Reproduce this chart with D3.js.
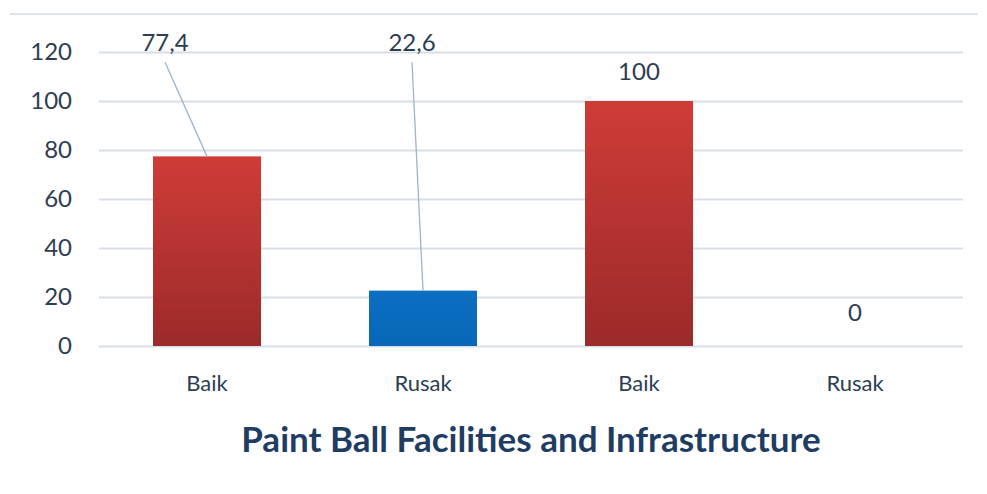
<!DOCTYPE html>
<html><head><meta charset="utf-8">
<script src="https://cdn.jsdelivr.net/npm/d3@7"></script>
<style>body{margin:0;background:#fff}svg{display:block}</style>
</head><body>
<script>
const categories = ["Baik", "Rusak", "Baik", "Rusak"];
const values = [77.4, 22.6, 100, 0];
const valueLabels = ["77,4", "22,6", "100", "0"];
const barColors = ["red", "blue", "red", "blue"];
const yTicks = [0, 20, 40, 60, 80, 100, 120];
const title = "Paint Ball Facilities and Infrastructure";
// label positions (data units) for labels lifted with leader lines
const labelOffsets = [{dx: -42, y: 124}, {dx: -11, y: 124}, {dx: 0, y: 112}, {dx: 0, y: 13.5}];

const W = 987, H = 494;
const margin = {left: 99, right: 24, top: 52, bottom: 148};
const svg = d3.select("body").append("svg").attr("width", W).attr("height", H);
const font = "Lato, 'Open Sans', sans-serif";
const textCol = "#2e3d50";

const defs = svg.append("defs");
const gr = defs.append("linearGradient").attr("id", "gRed").attr("x1", 0).attr("x2", 0).attr("y1", 0).attr("y2", 1);
gr.append("stop").attr("offset", "0%").attr("stop-color", "#cf3c37");
gr.append("stop").attr("offset", "100%").attr("stop-color", "#9b2a2a");
const gb = defs.append("linearGradient").attr("id", "gBlue").attr("x1", 0).attr("x2", 0).attr("y1", 0).attr("y2", 1);
gb.append("stop").attr("offset", "0%").attr("stop-color", "#0b6fc2");
gb.append("stop").attr("offset", "100%").attr("stop-color", "#0867b8");

const x = d3.scaleBand().domain(d3.range(categories.length)).range([margin.left, W - margin.right]).paddingInner(0.5).paddingOuter(0.25);
const y = d3.scaleLinear().domain([0, 120]).range([H - margin.bottom, margin.top]);

// top decorative line
svg.append("line").attr("x1", 10).attr("x2", 978).attr("y1", 14).attr("y2", 14).attr("stroke", "#dfe4ea").attr("stroke-width", 2);

// gridlines
const ya = svg.append("g").attr("transform", `translate(${margin.left},0)`)
  .call(d3.axisLeft(y).tickValues(yTicks).tickSize(-(W - margin.left - margin.right)).tickPadding(27).tickFormat(d3.format("d")));
ya.select(".domain").remove();
ya.selectAll(".tick line").attr("stroke", "#d8dee7").attr("stroke-width", 2);
ya.selectAll(".tick text").attr("font-family", font).attr("font-size", 24).attr("fill", textCol);

// bars
svg.selectAll("rect.bar").data(values).join("rect").attr("class", "bar")
  .attr("x", (d, i) => x(i)).attr("width", x.bandwidth())
  .attr("y", d => y(d)).attr("height", d => y(0) - y(d))
  .attr("fill", (d, i) => barColors[i] === "red" ? "url(#gRed)" : "url(#gBlue)");

// x category labels
const xa = svg.append("g").attr("transform", `translate(0,${y(0)})`)
  .call(d3.axisBottom(x).tickSize(0).tickPadding(29).tickFormat(i => categories[i]));
xa.select(".domain").remove();
xa.selectAll(".tick text").attr("font-family", font).attr("font-size", 22).attr("fill", textCol);

// leader lines
values.forEach((v, i) => {
  const cx = x(i) + x.bandwidth() / 2;
  const o = labelOffsets[i];
  if (i < 2) {
    svg.append("line").attr("x1", cx + o.dx).attr("y1", y(o.y) + 20)
      .attr("x2", cx).attr("y2", y(v)).attr("stroke", "#9fb4c8").attr("stroke-width", 1.3);
  }
});

// value labels
svg.selectAll("text.val").data(values).join("text").attr("class", "val")
  .attr("x", (d, i) => x(i) + x.bandwidth() / 2 + labelOffsets[i].dx)
  .attr("y", (d, i) => y(labelOffsets[i].y))
  .attr("dy", "0.35em").attr("text-anchor", "middle")
  .attr("font-family", font).attr("font-size", 24).attr("fill", textCol)
  .text((d, i) => valueLabels[i]);

// title
svg.append("text").attr("x", 531).attr("y", 440).attr("dy", "0.35em").attr("text-anchor", "middle")
  .attr("font-family", font).attr("font-weight", "bold").attr("font-size", 35).attr("fill", "#1f3d63")
  .text(title);
</script>
</body></html>
